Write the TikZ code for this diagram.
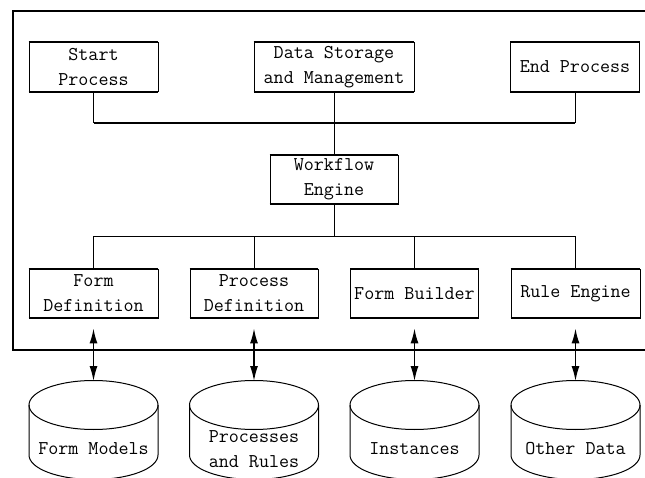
\documentclass[tikz,border=0pt]{standalone}
\usepackage{fontspec}
\usetikzlibrary{arrows.meta,positioning}

\tikzset{
  box/.style={draw, line width=0.9pt, minimum height=49pt, inner sep=0pt,
    align=center, font=\ttfamily\fontsize{19.5}{25}\selectfont},
  dbtext/.style={inner sep=0pt, align=center, font=\ttfamily\fontsize{19.5}{25}\selectfont},
  link/.style={line width=1pt},
  bus/.style={line width=2.6pt},
  rim/.style={line width=2pt},
  dbl/.style={line width=1.5pt, {Latex[length=15pt,width=8pt]}-{Latex[length=15pt,width=8pt]}},
}

\begin{document}
\begin{tikzpicture}[x=1pt,y=-1pt]
\useasboundingbox (0,0) rectangle (645,478);

% Frame
\draw[line width=1.5pt] (13,11) -- (13,350);
\draw[bus] (12,11) -- (650,11);
\draw[bus] (12,350) -- (650,350);

% Top row
\node[box, minimum width=129pt] (start) at (93.5,67) {Start\\Process};
\node[box, minimum width=160pt] (storage) at (334,67) {Data Storage\\and Management};
\node[box, minimum width=129pt] (endp) at (575,67) {End Process};

% Engine
\node[box, minimum width=128pt] (engine) at (334,179.5) {Workflow\\Engine};

% Bottom row
\node[box, minimum width=129pt] (fdef) at (93.5,293.5) {Form\\Definition};
\node[box, minimum width=128pt] (pdef) at (254,293.5) {Process\\Definition};
\node[box, minimum width=128pt] (fbuild) at (414.5,293.5) {Form Builder};
\node[box, minimum width=129pt] (rule) at (575.5,293.5) {Rule Engine};

\foreach \n in {start,storage,endp,engine,fdef,pdef,fbuild,rule} {
  \draw[rim] (\n.north west) -- (\n.north east);
  \draw[rim] (\n.south west) -- (\n.south east);
}

% Upper bus
\coordinate (topbus) at (334,123);
\draw[link] (start.south) -- (start.south |- topbus);
\draw[link] (endp.south) -- (endp.south |- topbus);
\draw[bus] (start.south |- topbus) -- (endp.south |- topbus);
\draw[link] (storage.south) -- (engine.north);

% Lower bus
\coordinate (lowbus) at (334,237);
\draw[link] (engine.south) -- (lowbus);
\foreach \n in {fdef,pdef,fbuild,rule}
  \draw[link] (\n.north) |- (lowbus);

% Databases
\foreach \cx/\nm/\txt in {93.5/fmod/Form Models, 254/prul/{Processes\\and Rules},
    414.5/inst/Instances, 575.5/othr/Other Data} {
  \draw[link] (\cx,405) ellipse [x radius=64.5, y radius=24.5];
  \draw[link] (\cx-64.5,405) -- (\cx-64.5,455)
    arc[start angle=180, end angle=0, x radius=64.5, y radius=24.5] -- (\cx+64.5,405);
  \coordinate (\nm top) at (\cx,381);
  \node[dbtext] (\nm) at (\cx,449) {\txt};
}

\foreach \b/\c in {fdef/fmod, pdef/prul, fbuild/inst, rule/othr}
  \draw[dbl, shorten <=10pt] (\b.south) -- (\c top);

\end{tikzpicture}
\end{document}
